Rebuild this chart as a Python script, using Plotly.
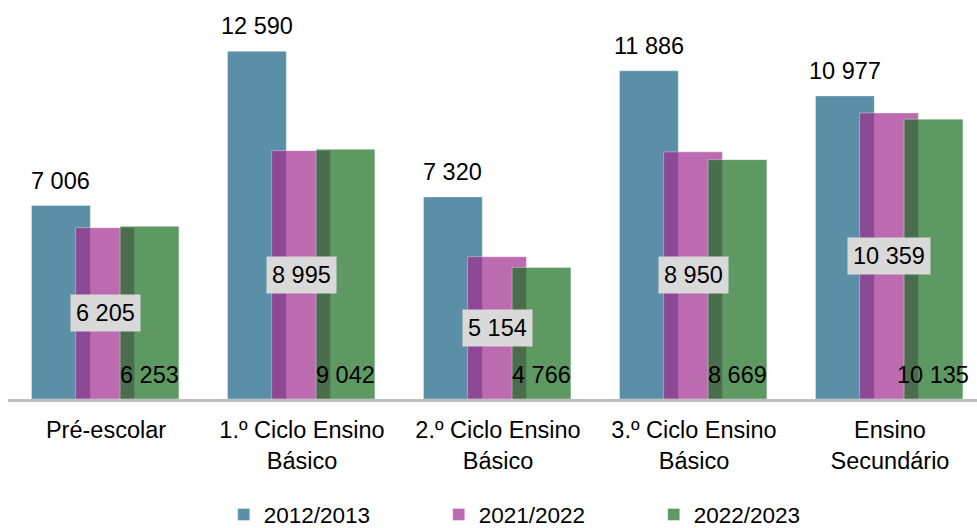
import plotly.graph_objects as go

categories = ["Pré-escolar", "1.º Ciclo Ensino<br>Básico", "2.º Ciclo Ensino<br>Básico",
              "3.º Ciclo Ensino<br>Básico", "Ensino<br>Secundário"]
series_names = ["2012/2013", "2021/2022", "2022/2023"]
v2012 = [7006, 12590, 7320, 11886, 10977]
v2021 = [6205, 8995, 5154, 8950, 10359]
v2022 = [6253, 9042, 4766, 8669, 10135]

FONT = "Liberation Sans, Arial, sans-serif"
FS = 23.5
W = 0.30
offsets = [-0.38, -0.155, 0.072]
colors = ["rgba(91,143,167,1)", "rgba(161,44,142,0.7)", "rgba(25,110,33,0.7)"]

def fmt(v):
    return f"{v:,}".replace(",", " ")

xs = list(range(len(categories)))
fig = go.Figure()
for name, vals, off, col in zip(series_names, [v2012, v2021, v2022], offsets, colors):
    fig.add_trace(go.Bar(
        x=xs, y=vals, name=name, width=W, offset=off,
        marker=dict(color=col, line=dict(color="rgba(255,255,255,0.35)", width=1)),
        hoverinfo="skip",
    ))

ann = []
for i in xs:
    ann.append(dict(x=i + offsets[0] + W / 2, y=v2012[i], text=fmt(v2012[i]), showarrow=False,
                    yanchor="middle", yshift=25, font=dict(family=FONT, size=FS, color="black")))
    ann.append(dict(x=i + offsets[1] + W / 2, y=v2021[i] / 2, text=fmt(v2021[i]), showarrow=False,
                    yanchor="middle", bgcolor="#D9D9D9", borderpad=5,
                    font=dict(family=FONT, size=FS, color="black")))
    ann.append(dict(x=i + offsets[2] + W / 2, y=0, text=fmt(v2022[i]), showarrow=False,
                    yanchor="middle", yshift=24, font=dict(family=FONT, size=FS, color="black")))

fig.update_layout(
    width=977, height=528,
    barmode="overlay",
    plot_bgcolor="white", paper_bgcolor="white",
    margin=dict(l=8, r=0, t=0, b=129, autoexpand=False),
    font=dict(family=FONT, size=FS, color="black"),
    xaxis=dict(range=[-0.5, 4.444], tickvals=xs, ticktext=categories, showgrid=False,
               zeroline=False, showline=True, linecolor="#BFBFBF", linewidth=3, ticks="",
               ticklabelstandoff=8, automargin=False,
               tickfont=dict(family=FONT, size=FS, color="black")),
    yaxis=dict(range=[0, 14450], visible=False, showgrid=False, zeroline=False),
    showlegend=True,
    legend=dict(orientation="h", xref="container", yref="container",
                x=0.229, xanchor="left", y=0.025, yanchor="middle",
                entrywidth=170, entrywidthmode="pixels",
                font=dict(family=FONT, size=22.5, color="black"), bgcolor="rgba(0,0,0,0)"),
    annotations=ann,
)

fig.write_html("out.html", config={"displayModeBar": False},
               post_script="document.body.style.margin='0';document.body.style.overflow='hidden';")
